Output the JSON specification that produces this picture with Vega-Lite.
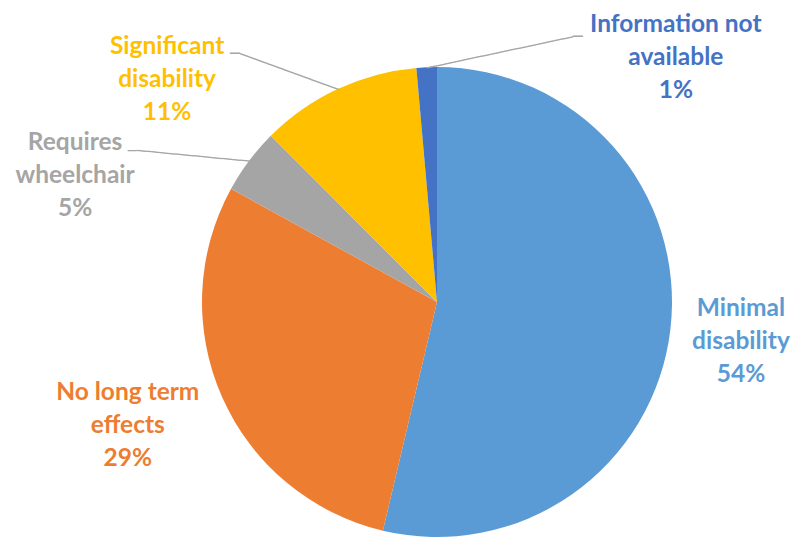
{
  "$schema": "https://vega.github.io/schema/vega-lite/v6.json",
  "autosize": {"type": "none"},
  "padding": {"left": 79, "top": 65, "right": 0, "bottom": 0},
  "width": 716,
  "height": 474,
  "background": "white",
  "config": {"view": {"stroke": null}},
  "data": {
    "values": [
      {"idx": 1, "category": "Minimal disability", "share": 53.7, "label": "Minimal\ndisability\n54%"},
      {"idx": 2, "category": "No long term effects", "share": 29.3, "label": "No long term\neffects\n29%"},
      {"idx": 3, "category": "Requires wheelchair", "share": 4.5, "label": "Requires\nwheelchair\n5%"},
      {"idx": 4, "category": "Significant disability", "share": 11.1, "label": "Significant\ndisability\n11%"},
      {"idx": 5, "category": "Information not available", "share": 1.4, "label": "Information not\navailable\n1%"}
    ]
  },
  "encoding": {
    "theta": {"field": "share", "type": "quantitative", "stack": true},
    "order": {"field": "idx", "type": "quantitative"},
    "color": {
      "field": "category",
      "type": "nominal",
      "legend": null,
      "scale": {
        "domain": ["Minimal disability", "No long term effects", "Requires wheelchair", "Significant disability", "Information not available"],
        "range": ["#5B9BD5", "#ED7D31", "#A5A5A5", "#FFC000", "#4472C4"]
      }
    }
  },
  "layer": [
    {"mark": {"type": "arc", "radius": 235}},
    {
      "mark": {"type": "text", "radius": 300, "dx": 6, "dy": -28, "lineBreak": "\n", "lineHeight": 33, "font": "Lato", "fontWeight": "bold", "fontSize": 24.5, "align": "center", "baseline": "middle"},
      "encoding": {"text": {"condition": {"test": "datum.idx == 1", "field": "label"}, "value": ""}}
    },
    {
      "mark": {"type": "text", "radius": 300, "dx": -35, "dy": -31, "lineBreak": "\n", "lineHeight": 33, "font": "Lato", "fontWeight": "bold", "fontSize": 24.5, "align": "center", "baseline": "middle"},
      "encoding": {"text": {"condition": {"test": "datum.idx == 2", "field": "label"}, "value": ""}}
    },
    {
      "mark": {"type": "text", "radius": 300, "dx": -122, "dy": 21, "lineBreak": "\n", "lineHeight": 33, "font": "Lato", "fontWeight": "bold", "fontSize": 24.5, "align": "center", "baseline": "middle"},
      "encoding": {"text": {"condition": {"test": "datum.idx == 3", "field": "label"}, "value": ""}}
    },
    {
      "mark": {"type": "text", "radius": 300, "dx": -143, "dy": 17, "lineBreak": "\n", "lineHeight": 33, "font": "Lato", "fontWeight": "bold", "fontSize": 24.5, "align": "center", "baseline": "middle"},
      "encoding": {"text": {"condition": {"test": "datum.idx == 4", "field": "label"}, "value": ""}}
    },
    {
      "mark": {"type": "text", "radius": 300, "dx": 252, "dy": 23, "lineBreak": "\n", "lineHeight": 33, "font": "Lato", "fontWeight": "bold", "fontSize": 24.5, "align": "center", "baseline": "middle"},
      "encoding": {"text": {"condition": {"test": "datum.idx == 5", "field": "label"}, "value": ""}}
    },
    {
      "mark": {"type": "text", "radius": 234, "font": "DejaVu Sans Mono", "fontSize": 15.7, "align": "right", "baseline": "middle", "angle": 5.46},
      "encoding": {"color": {"value": "#A6A6A6"}, "text": {"condition": {"test": "datum.idx == 3", "value": "────────────"}, "value": ""}}
    },
    {
      "mark": {"type": "text", "radius": 234, "dx": -113, "dy": -11, "font": "DejaVu Sans Mono", "fontSize": 15, "align": "right", "baseline": "middle"},
      "encoding": {"color": {"value": "#A6A6A6"}, "text": {"condition": {"test": "datum.idx == 3", "value": "─"}, "value": ""}}
    },
    {
      "mark": {"type": "text", "radius": 234, "font": "DejaVu Sans Mono", "fontSize": 15.77, "align": "right", "baseline": "middle", "angle": 20.17},
      "encoding": {"color": {"value": "#A6A6A6"}, "text": {"condition": {"test": "datum.idx == 4", "value": "───────────"}, "value": ""}}
    },
    {
      "mark": {"type": "text", "radius": 234, "dx": -98, "dy": -36, "font": "DejaVu Sans Mono", "fontSize": 16.6, "align": "right", "baseline": "middle"},
      "encoding": {"color": {"value": "#A6A6A6"}, "text": {"condition": {"test": "datum.idx == 4", "value": "─"}, "value": ""}}
    },
    {
      "mark": {"type": "text", "radius": 234, "font": "DejaVu Sans Mono", "fontSize": 15.53, "align": "left", "baseline": "middle", "angle": -12.04},
      "encoding": {"color": {"value": "#A6A6A6"}, "text": {"condition": {"test": "datum.idx == 5", "value": "────────────────"}, "value": ""}}
    },
    {
      "mark": {"type": "text", "radius": 234, "dx": 146, "dy": -31, "font": "DejaVu Sans Mono", "fontSize": 16.6, "align": "left", "baseline": "middle"},
      "encoding": {"color": {"value": "#A6A6A6"}, "text": {"condition": {"test": "datum.idx == 5", "value": "─"}, "value": ""}}
    }
  ]
}
